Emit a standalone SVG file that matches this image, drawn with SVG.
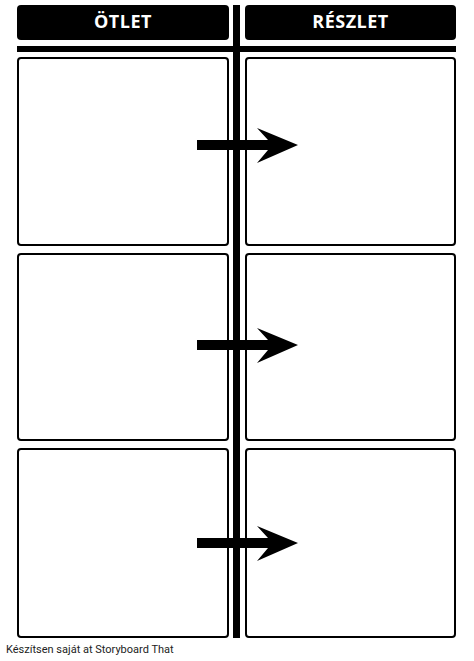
<svg xmlns="http://www.w3.org/2000/svg" width="474" height="661" viewBox="0 0 474 661">
<style>
.hdr{fill:#000}
.hdrtxt{fill:#fff;font-family:"Open Sans","DejaVu Sans",sans-serif;font-weight:bold;font-size:18px;text-anchor:middle;letter-spacing:0.5px}
.box{fill:#fff;stroke:#000;stroke-width:2}
.bar{fill:#000}
.arrow{fill:#000}
.foot{font-family:Roboto,"Liberation Sans",sans-serif;font-size:11px;fill:#222}
</style>
<defs>
<path id="arr" d="M197,140 L268,140 L257,128 L298,145 L257,163 L268,150 L197,150 Z"/>
</defs>
<rect width="474" height="661" fill="#fff"/>
<g id="header-otlet">
<rect class="hdr" x="17" y="5" width="212" height="35" rx="4"/>
<text class="hdrtxt" x="123" y="28">ÖTLET</text>
</g>
<g id="header-reszlet">
<rect class="hdr" x="245" y="5" width="211" height="35" rx="4"/>
<text class="hdrtxt" x="350.5" y="28">RÉSZLET</text>
</g>
<g id="dividers">
<rect class="bar" x="17" y="46" width="439" height="6"/>
<rect class="bar" x="233" y="5" width="7" height="633"/>
</g>
<g id="idea-1"><rect class="box" x="18" y="58" width="210" height="187" rx="3"/></g>
<g id="detail-1"><rect class="box" x="246" y="58" width="209" height="187" rx="3"/></g>
<g id="idea-2"><rect class="box" x="18" y="254" width="210" height="186" rx="3"/></g>
<g id="detail-2"><rect class="box" x="246" y="254" width="209" height="186" rx="3"/></g>
<g id="idea-3"><rect class="box" x="18" y="449" width="210" height="188" rx="3"/></g>
<g id="detail-3"><rect class="box" x="246" y="449" width="209" height="188" rx="3"/></g>
<g id="connectors">
<use href="#arr" class="arrow"/>
<use href="#arr" class="arrow" transform="translate(0,200)"/>
<use href="#arr" class="arrow" transform="translate(0,398)"/>
</g>
<text class="foot" x="6" y="653">Készítsen saját at Storyboard That</text>
</svg>
